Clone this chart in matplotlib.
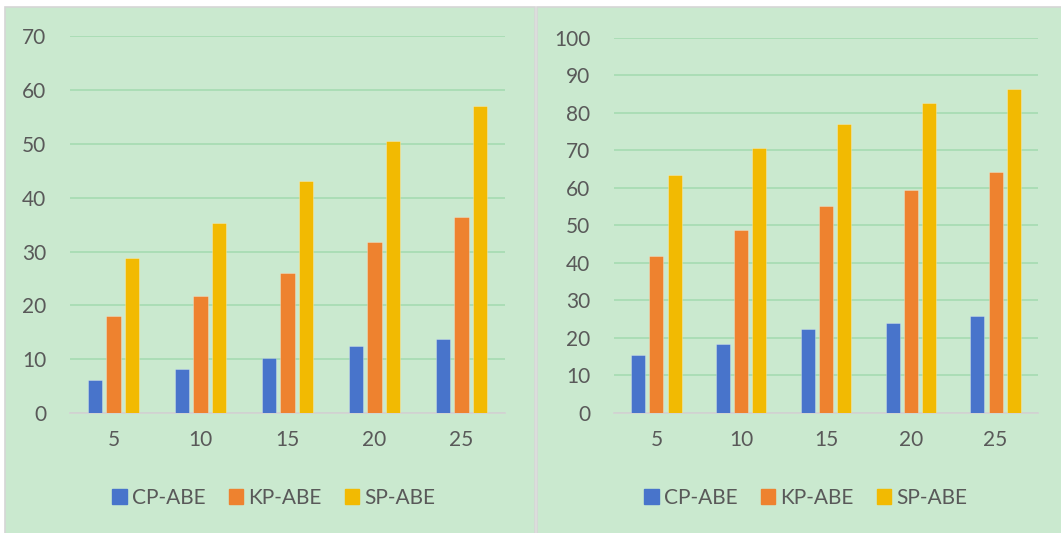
import matplotlib.pyplot as plt
from matplotlib.patches import Rectangle, Patch
import numpy as np

categories = ["5", "10", "15", "20", "25"]
series_names = ["CP-ABE", "KP-ABE", "SP-ABE"]

# left chart
left_cp = [6.2, 8.2, 10.3, 12.5, 13.7]
left_kp = [18.0, 21.7, 26.1, 31.8, 36.4]
left_sp = [28.9, 35.4, 43.2, 50.6, 57.0]

# right chart
right_cp = [15.5, 18.4, 22.5, 24.0, 25.9]
right_kp = [41.9, 48.8, 55.1, 59.3, 64.1]
right_sp = [63.4, 70.7, 76.9, 82.6, 86.3]

colors = ["#4874CB", "#EE822F", "#F2BA02"]
bg = "#CAE9CF"
grid_col = "#A8DCB4"
text_col = "#595959"

W, H = 1061, 533
plt.rcParams['font.family'] = ['Lato', 'DejaVu Sans']

fig = plt.figure(figsize=(W / 100, H / 100), dpi=100)
fig.patch.set_facecolor("white")


def px_rect(x0, y0, x1, y1, **kw):
    # rectangle given in pixel coords from the top-left corner
    return Rectangle((x0 / W, 1 - y1 / H), (x1 - x0) / W, (y1 - y0) / H,
                     transform=fig.transFigure, zorder=-10, **kw)


fig.patches.append(px_rect(5, 6.5, 535, 545, facecolor=bg, edgecolor="#D6D6D6", lw=1.2))
fig.patches.append(px_rect(537.5, 6.5, 1070, 545, facecolor=bg, edgecolor="#D6D6D6", lw=1.2))


def draw_panel(rect, series, ymax, legend_x):
    ax = fig.add_axes(rect)
    ax.set_facecolor("none")
    ax.set_zorder(5)
    x = np.arange(len(categories))
    w = 0.165
    off = 0.214
    for i, vals in enumerate(series):
        ax.bar(x + (i - 1) * off, vals, width=w, color=colors[i],
               edgecolor="#FFFFFF55", linewidth=0.6, zorder=3)
    ax.set_xlim(-0.5, len(categories) - 0.5)
    ax.set_ylim(0, ymax)
    ax.set_yticks(np.arange(0, ymax + 1, 10))
    ax.set_xticks(x)
    ax.set_xticklabels(categories)
    ax.yaxis.grid(True, color=grid_col, lw=1.3, zorder=0)
    ax.set_axisbelow(True)
    for s in ["top", "right", "left"]:
        ax.spines[s].set_visible(False)
    ax.spines["bottom"].set_color("#D3D3D3")
    ax.spines["bottom"].set_linewidth(1.3)
    ax.tick_params(axis="both", length=0, labelsize=15, colors=text_col)
    ax.tick_params(axis="y", pad=17)
    ax.tick_params(axis="x", pad=12)
    handles = [Patch(color=c) for c in colors]
    ax.legend(handles, series_names, loc="center", bbox_to_anchor=(legend_x, 1 - 498 / H),
              bbox_transform=fig.transFigure, ncol=3, frameon=False, fontsize=15,
              labelcolor=text_col, handlelength=0.7, handleheight=0.7,
              handletextpad=0.25, columnspacing=1.1)
    return ax


bottom = 1 - 413 / H
height = (413 - 36.5) / H
draw_panel([70 / W, bottom, 435 / W, height], [left_cp, left_kp, left_sp], 70, 274 / W)
bottom_r = 1 - 413 / H
height_r = (413 - 37.6) / H
draw_panel([614 / W, bottom_r, 424 / W, height_r], [right_cp, right_kp, right_sp], 100, 806 / W)

fig.savefig("out.png", dpi=100, facecolor=fig.get_facecolor())
